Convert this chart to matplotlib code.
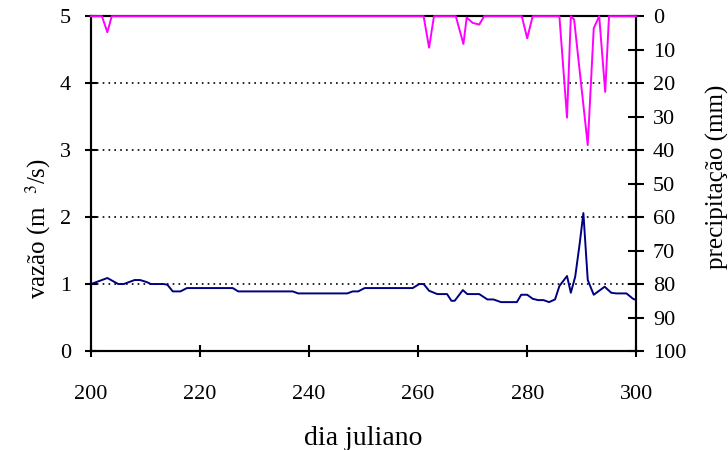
import numpy as np
import matplotlib
matplotlib.use("Agg")
import matplotlib.pyplot as plt

plt.rcParams['font.family'] = ['Liberation Serif', 'DejaVu Serif']
plt.rcParams['mathtext.fontset'] = 'stix'

# vazao (m3/s) - vertices
dia_vazao = [200, 203, 205, 206, 208, 209, 210.2, 211, 213.3, 214, 215, 216.4,
             217.6, 226, 227, 237, 238, 247, 248, 249, 250.2, 259, 260.2, 261,
             262, 263.5, 265.3, 266.1, 266.7, 268.2, 269, 271.2, 272.7, 273.8,
             275.2, 278.1, 278.9, 280, 281, 282, 283, 284, 285.1, 285.9, 287.3,
             288, 288.8, 289.6, 290.3, 291.1, 292.2, 294.2, 295.4, 296.3, 298.2,
             299.4, 300]
vazao = [1.00, 1.09, 1.00, 1.00, 1.06, 1.06, 1.03, 1.00, 1.00, 0.99, 0.89, 0.89,
         0.94, 0.94, 0.89, 0.89, 0.86, 0.86, 0.89, 0.89, 0.94, 0.94, 1.00, 1.00,
         0.90, 0.85, 0.85, 0.75, 0.75, 0.91, 0.85, 0.85, 0.77, 0.77,
         0.73, 0.73, 0.84, 0.84, 0.78, 0.76, 0.76, 0.73, 0.77, 0.97, 1.12,
         0.87, 1.11, 1.59, 2.06, 1.06, 0.84, 0.96, 0.87, 0.86, 0.86,
         0.78, 0.76]

# precipitacao (mm)
dia_chuva = [200, 202, 203, 203.8, 261, 262, 262.9, 266.9, 268.3, 268.9, 270,
             271.2, 272.1, 279, 280, 281, 285.9, 287.3, 288, 288.6, 291.1,
             292.2, 293.2, 294.3, 295, 300]
chuva = [0, 0, 4.8, 0, 0, 9.4, 0, 0, 8.3, 0.4, 2.0,
         2.5, 0, 0, 6.6, 0, 0, 30.3, 0, 1.0, 38.5,
         3.6, 0, 22.6, 0, 0]

fig, ax = plt.subplots(figsize=(7.28, 4.5), dpi=100)
fig.subplots_adjust(left=0.125, right=0.874, top=0.964, bottom=0.22)

ax.plot(dia_vazao, vazao, color='#000080', lw=1.4, zorder=3)
ax.set_xlim(200, 300)
ax.set_ylim(0, 5)
ax.set_xticks(np.arange(200, 301, 20))
ax.set_yticks(np.arange(0, 6, 1))
for v in [1, 2, 3, 4]:
    ax.axhline(v, color='black', ls=(0, (1, 2.5)), lw=1.2, zorder=1)
ax.set_xlabel('dia juliano', fontsize=20)
ax.set_ylabel('vazão (m  $^{3}$/s)', fontsize=18)
ax.xaxis.set_label_coords(0.5, -0.26)
ax.xaxis.label.set_va('center')
ax.yaxis.set_label_coords(-0.097, 0.367)
ax.yaxis.label.set_va('center')
ax.tick_params(direction='inout', length=9, width=1.5, labelsize=16)
ax.tick_params(axis='x', pad=20)
ax.tick_params(axis='y', pad=10)

ax2 = ax.twinx()
ax2.plot(dia_chuva, chuva, color='#FF00FF', lw=1.4, clip_on=False, zorder=4)
ax2.set_ylim(100, 0)
ax2.set_yticks(np.arange(0, 101, 10))
ax2.set_ylabel('precipitação (mm)', fontsize=18)
ax2.yaxis.set_label_coords(1.148, 0.52)
ax2.yaxis.label.set_va('center')
ax2.tick_params(direction='inout', length=12, width=1.5, labelsize=16, pad=6)

for a in (ax, ax2):
    for s in a.spines.values():
        s.set_linewidth(1.5)

fig.savefig('out.png', dpi=100)
